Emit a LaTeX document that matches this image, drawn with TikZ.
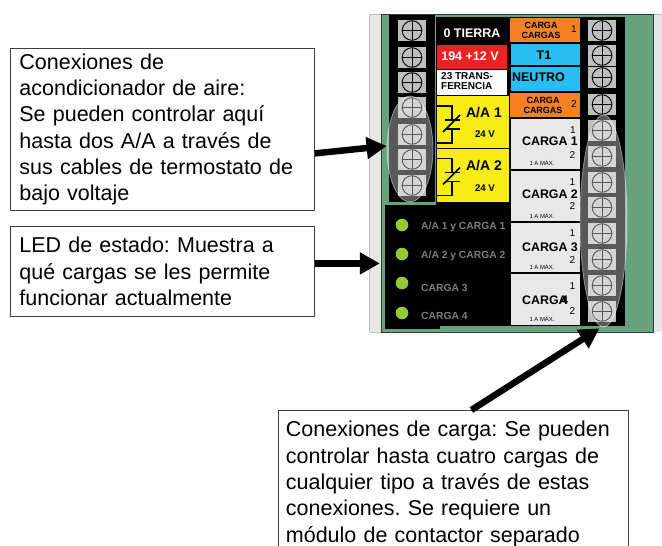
\documentclass[tikz,border=0pt]{standalone}
\usepackage{fontspec}
\setmainfont{Liberation Sans}
\frenchspacing
\usetikzlibrary{arrows.meta,shapes.geometric,calc}
\definecolor{boardgreen}{RGB}{102,163,125}
\definecolor{railgray}{RGB}{230,230,230}
\definecolor{framedark}{RGB}{50,60,55}
\definecolor{termgray}{RGB}{190,190,190}
\definecolor{redlab}{RGB}{237,32,36}
\definecolor{orangelab}{RGB}{245,130,32}
\definecolor{bluelab}{RGB}{41,190,240}
\definecolor{yellowlab}{RGB}{247,236,19}
\definecolor{cargalab}{RGB}{232,232,232}
\definecolor{ledgreen}{RGB}{150,200,50}
\definecolor{ledtext}{RGB}{125,125,125}
\tikzset{
  x=1pt,y=-1pt,
  callout/.style={draw=black!75,line width=0.8pt,fill=white,anchor=north west,align=left,inner ysep=0pt,
    font=\fontsize{21.5}{26.3}\selectfont},
  bigarrow/.style={line width=6.5pt,-{Triangle[length=20pt,width=21pt]},black},
  halo/.style={ellipse,fill=white,fill opacity=0.35,draw=white,draw opacity=0.45,line width=0.8pt,inner sep=0pt},
  relayline/.style={line width=1.5pt,black},
  lab/.style={inner sep=0pt,align=center,font=\fontsize{#1}{#1}\selectfont\bfseries},
  lab/.default=12.5,
  thin lab/.style={inner sep=0pt,align=center,font=\fontsize{#1}{#1}\selectfont},
  ledlab/.style={inner sep=0pt,anchor=west,text=ledtext,font=\fontsize{10.3}{11}\selectfont\bfseries},
}
\newcommand{\terminal}[2]{%
  \fill[termgray] (#1-14,#2) rectangle (#1+14,#2+21);
  \draw[black,line width=0.9pt] (#1,#2+10.5) circle (9.8);
  \draw[black,line width=0.9pt] (#1-9.8,#2+10.5) -- (#1+9.8,#2+10.5) (#1,#2+0.7) -- (#1,#2+20.3);
}
\newcommand{\relaysym}[1]{%
  \draw[relayline] (437,#1) -- (452,#1) -- (452,#1+14);
  \draw[relayline] (445,#1+14) -- (460,#1+14);
  \draw[relayline] (445,#1+23) -- (460,#1+23);
  \draw[relayline] (443,#1+26) -- (460,#1+9);
  \draw[relayline] (452,#1+23) -- (452,#1+37) -- (437,#1+37);
}
\begin{document}
\begin{tikzpicture}
\useasboundingbox (0,0) rectangle (662,546);
\fill[white] (0,0) rectangle (662,546);
% rail and board
\fill[railgray] (369,14) rectangle (662,332);
\draw[black!25,line width=0.6pt] (369.5,332) -- (369.5,14) -- (662,14);
\draw[black!25,line width=0.6pt] (369.5,332) -- (381,332);
\fill[boardgreen] (381,14) rectangle (653,332);
\draw[framedark,line width=1pt] (381.5,332) rectangle (653,14);
% black areas
\fill[black] (389,15) rectangle (435,202);
\fill[black] (436,17) rectangle (625,326);
\fill[black] (385,205) rectangle (440,329);
\fill[black] (385,205) rectangle (510,326);
% terminals
\foreach \ty in {20,47,72,97,124,149,175}{\terminal{412}{\ty}}
\foreach \ty in {20,45,67,94,120,146,172,197,223,249,275,301}{\terminal{602}{\ty}}
% coloured labels
\fill[redlab] (437,45) rectangle (507,69);
\fill[white] (437,70) rectangle (507,95);
\fill[yellowlab] (437,96) rectangle (509,148);
\fill[yellowlab] (437,149) rectangle (509,202);
\fill[orangelab] (510,18) rectangle (580,42);
\fill[bluelab] (511,44) rectangle (580,65);
\fill[bluelab] (511,67) rectangle (580,91);
\fill[orangelab] (510,93) rectangle (580,117);
\fill[cargalab] (511,119) rectangle (580,169);
\fill[cargalab] (511,171) rectangle (580,221);
\fill[cargalab] (511,223) rectangle (580,272);
\fill[cargalab] (511,274) rectangle (580,325);
\relaysym{106}
\relaysym{158.5}
% label texts
\node[lab,text=white] (tierra) at (472,33.5) {0 TIERRA};
\node[lab,text=white] (volt) at (470,56) {194 +12 V};
\node[lab=10,anchor=west,align=left] (transf) at (441,81.5) {\fontsize{10}{12.6}\selectfont 23 TRANS-\\FERENCIA};
\node[lab=9,font=\fontsize{9}{10}\selectfont\bfseries] (or1) at (541,30) {CARGA\\CARGAS};
\node[thin lab=10] (or1n) at (574,29) {1};
\node[lab] (t1) at (544,55) {T1};
\node[lab] (neutro) at (538.5,77.5) {NEUTRO};
\node[lab=9,font=\fontsize{9}{10}\selectfont\bfseries] (or2) at (543,105) {CARGA\\CARGAS};
\node[thin lab=10] (or2n) at (574,104) {2};
\node[lab=14] (aa1) at (484,113) {A/A 1};
\node[lab=9.7] (v1) at (485,134.5) {24 V};
\node[lab=14] (aa2) at (484,166) {A/A 2};
\node[lab=9.7] (v2) at (485,188) {24 V};
% carga panels
\node[lab=12.4] (c1) at (550,141) {CARGA 1};
\node[thin lab=10] (c1a) at (573,130) {1};
\node[thin lab=10] (c1b) at (572.5,155) {2};
\node[thin lab=5.9] (c1m) at (542,163) {1 A MÁX.};
\node[lab=12.4] (c2) at (550,194) {CARGA 2};
\node[thin lab=10] (c2a) at (572.5,182) {1};
\node[thin lab=10] (c2b) at (572.5,206.5) {2};
\node[thin lab=5.9] (c2m) at (542,216) {1 A MÁX.};
\node[lab=12.4] (c3) at (550,247) {CARGA 3};
\node[thin lab=10] (c3a) at (572.5,233) {1};
\node[thin lab=10] (c3b) at (572.5,260) {2};
\node[thin lab=5.9] (c3m) at (542,267) {1 A MÁX.};
\node[lab=12.4,anchor=west] (c4) at (522,300) {CARGA};
\node[lab=12.4] (c4n) at (564.5,300) {4};
\node[thin lab=10] (c4a) at (572.5,286.5) {1};
\node[thin lab=10] (c4b) at (572.5,311.5) {2};
\node[thin lab=5.9] (c4m) at (542,319) {1 A MÁX.};
% LEDs
\foreach \n/\ly in {1/225,2/254,3/283,4/313}{\fill[ledgreen] (402,\ly) circle (6.3);}
\node[ledlab] (l1) at (421,226.5) {A/A 1 y CARGA 1};
\node[ledlab] (l2) at (421,255.5) {A/A 2 y CARGA 2};
\node[ledlab] (l3) at (421,287.5) {CARGA 3};
\node[ledlab] (l4) at (421,315.5) {CARGA 4};
% halos
\node[halo,minimum width=46pt,minimum height=106pt] (halol) at (410,149) {};
\node[halo,minimum width=47pt,minimum height=212pt] (halor) at (603.5,221) {};
% callouts
\node[callout,minimum width=304.5pt,minimum height=162pt,text width=285.5pt,inner xsep=9.5pt] (box1) at (9.5,48)
 {Conexiones de\\acondicionador de aire:\\Se pueden controlar aquí\\hasta dos A/A a través de\\sus cables de termostato de\\bajo voltaje};
\node[callout,minimum width=304.5pt,minimum height=90pt,text width=285.5pt,inner xsep=9.5pt] (box2) at (9.5,226)
 {LED de estado: Muestra a\\qué cargas se les permite\\funcionar actualmente};
\node[callout,minimum width=350pt,minimum height=147pt,text width=335pt,inner xsep=7.5pt] (box3) at (278,410)
 {Conexiones de carga: Se pueden\\controlar hasta cuatro cargas de\\cualquier tipo a través de estas\\conexiones. Se requiere un\\módulo de contactor separado};
% arrows
\draw[bigarrow] ([yshift=-24pt]box1.east) -- ([yshift=3pt]halol.west);
\draw[bigarrow] ([yshift=8pt]box2.east) -- ($(box2.east)+(65,-8)$);
\draw[bigarrow] ([xshift=18pt]box3.north) -- ([xshift=-4pt,yshift=-1pt]halor.south);
\end{tikzpicture}
\end{document}
